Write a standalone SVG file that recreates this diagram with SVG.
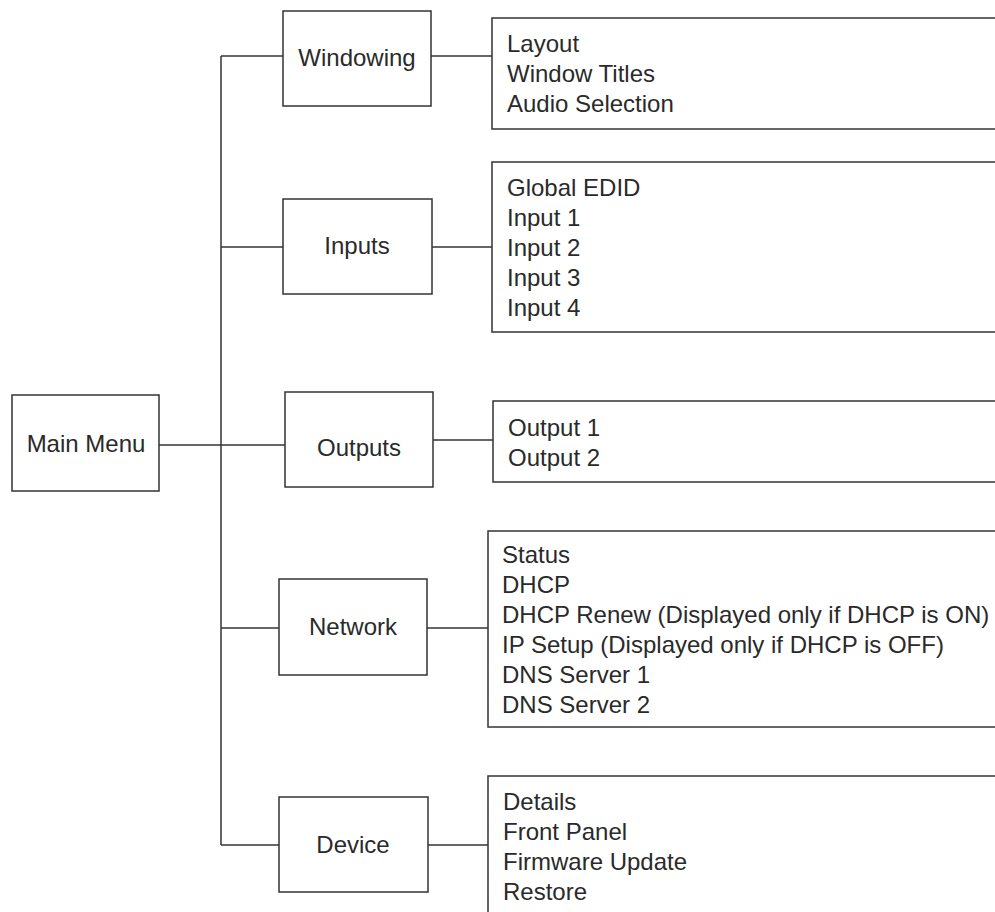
<svg xmlns="http://www.w3.org/2000/svg" width="995" height="912" viewBox="0 0 995 912">
<style>
.box{fill:#fff;stroke:#333;stroke-width:1.5}
.ln{fill:none;stroke:#333;stroke-width:1.5}
text{font-family:"Liberation Sans",Arial,sans-serif;font-size:24px;fill:#2a2a2a}
.c{text-anchor:middle}
</style>
<rect width="995" height="912" fill="#fff"/>
<g id="connectors">
<path class="ln" d="M221,56 V845"/>
<path class="ln" d="M159,445 H285"/>
<path class="ln" d="M221,56 H283"/>
<path class="ln" d="M221,247 H283"/>
<path class="ln" d="M221,628 H279"/>
<path class="ln" d="M221,845 H279"/>
<path class="ln" d="M431,56 H492"/>
<path class="ln" d="M432,247 H492"/>
<path class="ln" d="M433,440 H493"/>
<path class="ln" d="M427,628 H488"/>
<path class="ln" d="M428,845 H488"/>
</g>
<g id="main-menu">
<rect class="box" x="12" y="395" width="147" height="96"/>
<text class="c" x="86" y="452">Main Menu</text>
</g>
<g id="windowing">
<rect class="box" x="283" y="11" width="148" height="95"/>
<text class="c" x="357" y="66">Windowing</text>
</g>
<g id="inputs">
<rect class="box" x="283" y="199" width="149" height="95"/>
<text class="c" x="357" y="254">Inputs</text>
</g>
<g id="outputs">
<rect class="box" x="285" y="392" width="148" height="95"/>
<text class="c" x="359" y="456">Outputs</text>
</g>
<g id="network">
<rect class="box" x="279" y="579" width="148" height="96"/>
<text class="c" x="353" y="635">Network</text>
</g>
<g id="device">
<rect class="box" x="279" y="797" width="149" height="95"/>
<text class="c" x="353" y="853">Device</text>
</g>
<g id="windowing-items">
<rect class="box" x="492" y="18" width="520" height="111"/>
<text x="507" y="52">Layout</text>
<text x="507" y="82">Window Titles</text>
<text x="507" y="112">Audio Selection</text>
</g>
<g id="inputs-items">
<rect class="box" x="492" y="162" width="520" height="170"/>
<text x="507" y="196">Global EDID</text>
<text x="507" y="226">Input 1</text>
<text x="507" y="256">Input 2</text>
<text x="507" y="286">Input 3</text>
<text x="507" y="316">Input 4</text>
</g>
<g id="outputs-items">
<rect class="box" x="493" y="401" width="520" height="81"/>
<text x="508" y="436">Output 1</text>
<text x="508" y="466">Output 2</text>
</g>
<g id="network-items">
<rect class="box" x="488" y="531" width="520" height="196"/>
<text x="502" y="563">Status</text>
<text x="502" y="593">DHCP</text>
<text x="502" y="623">DHCP Renew (Displayed only if DHCP is ON)</text>
<text x="502" y="653">IP Setup (Displayed only if DHCP is OFF)</text>
<text x="502" y="683">DNS Server 1</text>
<text x="502" y="713">DNS Server 2</text>
</g>
<g id="device-items">
<rect class="box" x="488" y="776" width="520" height="160"/>
<text x="503" y="810">Details</text>
<text x="503" y="840">Front Panel</text>
<text x="503" y="870">Firmware Update</text>
<text x="503" y="900">Restore</text>
</g>
</svg>
